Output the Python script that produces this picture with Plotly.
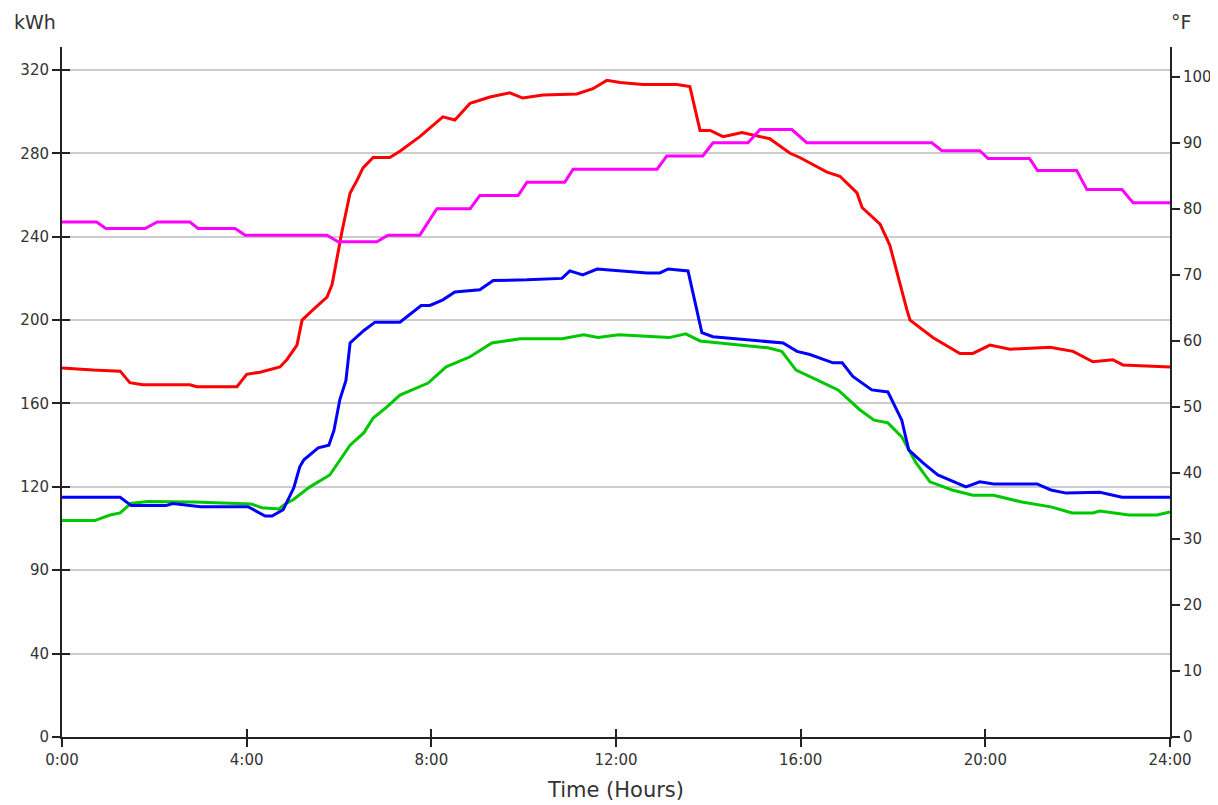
import plotly.graph_objects as go

# ---- data (hours of day, values) ----
red_t = [0.0, 0.67, 1.26, 1.47, 1.75, 2.77, 2.92, 3.79, 4.0, 4.29, 4.72, 4.87, 5.09, 5.2, 5.44, 5.74, 5.85, 5.96,
         6.06, 6.24, 6.39, 6.52, 6.74, 7.1, 7.32, 7.75, 8.25, 8.51, 8.84, 9.27, 9.7, 9.98, 10.42, 11.15, 11.5, 11.8,
         12.09, 12.58, 13.32, 13.6, 13.82, 14.04, 14.32, 14.73, 15.33, 15.77, 15.98, 16.57, 16.85, 17.22, 17.33,
         17.72, 17.93, 18.3, 18.37, 18.87, 19.45, 19.73, 20.1, 20.53, 21.4, 21.9, 22.33, 22.76, 22.98, 24.0]
red_kwh = [177, 176, 175.5, 170, 169, 169, 168, 168, 174, 175, 177.5, 181, 188, 200, 205, 211, 217, 231,
           242, 261, 267, 273, 278, 278, 281, 288, 297.5, 296, 304, 307, 309, 306.5, 308, 308.5, 311, 315,
           314, 313, 313, 312, 291, 291, 288, 290, 287, 280, 278, 271, 269, 261, 254,
           246, 236, 205, 200, 191.5, 184, 184, 188, 186, 187, 185, 180, 181, 178.5, 177.5]

blue_t = [0.0, 1.26, 1.5, 2.25, 2.4, 3.0, 4.03, 4.4, 4.55, 4.79, 5.02, 5.15, 5.24, 5.55, 5.78, 5.89, 6.02, 6.15,
          6.24, 6.54, 6.78,
          7.32, 7.78, 7.97, 8.25, 8.51, 9.05, 9.34, 10.07, 10.83, 11.0, 11.28, 11.59, 12.09, 12.67, 12.95, 13.13,
          13.56, 13.67, 13.86, 14.1, 14.62, 15.33, 15.62, 15.92, 16.2, 16.7, 16.9, 17.13, 17.54, 17.89, 18.19,
          18.34, 18.65, 18.97, 19.58, 19.88, 20.18, 21.12, 21.42, 21.75, 22.48, 22.96, 24.0]
blue_kwh = [115, 115, 111, 111, 112, 110.5, 110.5, 106, 106, 109, 119.5, 129.6, 133, 138.7, 140, 147, 162, 171,
            189, 195, 199,
            199, 207, 207, 209.7, 213.5, 214.5, 219, 219.3, 220, 223.6, 221.7, 224.5, 223.6, 222.6, 222.6, 224.5,
            223.6, 213, 194, 192, 191, 189.6, 189, 185, 183.5, 179.5, 179.5, 173, 166.5, 165.5, 152,
            137.7, 131.5, 125.7, 120, 122.4, 121.4, 121.4, 118.5, 117, 117.4, 115, 115]

green_t = [0.0, 0.71, 1.04, 1.26, 1.49, 1.86, 2.86, 4.09, 4.33, 4.7, 4.85, 5.0, 5.37, 5.8, 6.24, 6.54,
           6.74, 7.02, 7.32, 7.93, 8.32, 8.84, 9.31, 9.92, 10.83, 11.3, 11.61, 12.06, 13.15, 13.51, 13.82, 14.66,
           15.29, 15.59, 15.9, 16.5, 16.81, 17.28, 17.59, 17.89, 18.19, 18.5, 18.8, 19.28, 19.73, 20.18, 20.79,
           21.42, 21.88, 22.33, 22.48, 23.11, 23.72, 24.0]
green_kwh = [103.8, 103.8, 106.5, 107.5, 112, 113, 112.7, 111.8, 110, 109.4, 112, 113.7, 120, 125.7, 140, 146,
             153, 158, 164, 169.8, 177.6, 182.4, 189, 191, 191, 193, 191.6, 193, 191.6, 193.4, 190, 188,
             186.7, 185, 176, 169.8, 166.5, 157, 152, 150.7, 144, 131.5, 122.4, 118.5, 116, 116, 112.7,
             110.4, 107.5, 107.5, 108.4, 106.5, 106.5, 108]

temp_t = [0.0, 0.75, 0.95, 1.8, 2.06, 2.77, 2.95, 3.75, 3.97, 5.74, 5.98, 6.82, 7.06, 7.75, 8.12, 8.84, 9.05,
          9.88, 10.07, 10.89, 11.07, 12.89, 13.1, 13.88, 14.1, 14.86, 15.12, 15.81, 16.13, 18.84, 19.06, 19.88,
          20.06, 20.96, 21.13, 21.98, 22.2, 22.96, 23.2, 24.0]
temp_f = [78, 78, 77, 77, 78, 78, 77, 77, 76, 76, 75, 75, 76, 76, 80, 80, 82,
          82, 84, 84, 86, 86, 88, 88, 90, 90, 92, 92, 90, 90, 88.8, 88.8,
          87.6, 87.6, 85.8, 85.8, 82.9, 82.9, 80.9, 80.9]

x_ticks = [0, 4, 8, 12, 16, 20, 24]
x_labels = ["0:00", "4:00", "8:00", "12:00", "16:00", "20:00", "24:00"]
kwh_ticks = [0, 40, 80, 120, 160, 200, 240, 280, 320]
kwh_labels = ["0", "40", "90", "120", "160", "200", "240", "280", "320"]
temp_ticks = [0, 10, 20, 30, 40, 50, 60, 70, 80, 90, 100]

FONT = "DejaVu Sans"
TXT = "#333333"

fig = go.Figure()
fig.add_trace(go.Scatter(x=temp_t, y=temp_f, mode="lines", yaxis="y2",
                         line=dict(color="#ff00ff", width=3), hoverinfo="skip"))
fig.add_trace(go.Scatter(x=green_t, y=green_kwh, mode="lines",
                         line=dict(color="#00c800", width=3), hoverinfo="skip"))
fig.add_trace(go.Scatter(x=blue_t, y=blue_kwh, mode="lines",
                         line=dict(color="#0000ff", width=3), hoverinfo="skip"))
fig.add_trace(go.Scatter(x=red_t, y=red_kwh, mode="lines",
                         line=dict(color="#ff0000", width=3), hoverinfo="skip"))
# empty helper trace so inner-tick axes are drawn (ticks crossing the axis lines)
fig.add_trace(go.Scatter(x=[], y=[], xaxis="x2", yaxis="y3", showlegend=False))

fig.update_layout(
    width=1210, height=797,
    margin=dict(l=54, r=48, t=39, b=68),
    paper_bgcolor="white", plot_bgcolor="white",
    showlegend=False,
    font=dict(family=FONT, size=15, color=TXT),
    xaxis=dict(range=[0, 24], tickvals=x_ticks, ticktext=x_labels, showgrid=False, zeroline=False,
               showline=True, linecolor="#222", linewidth=2, ticks="outside", ticklen=8, automargin=False,
               tickcolor="#222", tickwidth=1.5, tickfont=dict(size=15, color=TXT),
               title=dict(text="Time (Hours)", font=dict(size=21, color=TXT), standoff=14)),
    xaxis2=dict(range=[0, 24], overlaying="x", tickvals=x_ticks, showticklabels=False, showgrid=False,
                zeroline=False, ticks="inside", ticklen=8, tickcolor="#222", tickwidth=1.5, automargin=False),
    yaxis=dict(range=[0, 331], tickvals=kwh_ticks, ticktext=kwh_labels, showgrid=True, gridcolor="#cccccc",
               gridwidth=2, zeroline=False, showline=True, linecolor="#222", linewidth=2, automargin=False,
               ticks="outside", ticklen=8, tickcolor="#222", tickwidth=1.5, tickfont=dict(size=15, color=TXT)),
    yaxis2=dict(range=[0, 104.5], overlaying="y", side="right", tickvals=temp_ticks, showgrid=False,
                zeroline=False, showline=True, linecolor="#222", linewidth=2, ticks="outside", ticklen=8,
                tickcolor="#222", tickwidth=1.5, tickfont=dict(size=15, color=TXT), automargin=False),
    yaxis3=dict(range=[0, 331], overlaying="y", tickvals=kwh_ticks, showticklabels=False, showgrid=False,
                zeroline=False, ticks="inside", ticklen=8, tickcolor="#222", tickwidth=1.5, automargin=False),
    annotations=[
        dict(text="kWh", xref="paper", yref="paper", x=0.0, y=1.0, xshift=-50, yshift=12, xanchor="left",
             yanchor="bottom", showarrow=False, font=dict(size=19, color=TXT)),
        dict(text="°F", xref="paper", yref="paper", x=1.0, y=1.0, xshift=-1, yshift=12, xanchor="left",
             yanchor="bottom", showarrow=False, font=dict(size=19, color=TXT)),
    ],
)

fig.write_html("out.html")
